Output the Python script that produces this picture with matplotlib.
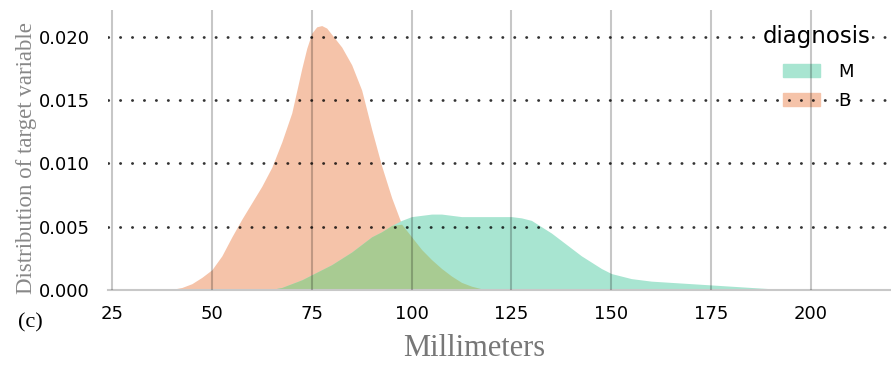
import numpy as np
import matplotlib
matplotlib.use("Agg")
import matplotlib.pyplot as plt

# shared grid (mm) and densities
x_mm = [35, 37.5, 40, 42.5, 45, 47.5, 50, 52.5, 55, 57.5, 60, 62.5, 65, 67.5, 70,
        72.5, 73.75, 75, 76.25, 77.5, 78.75, 80,
        82.5, 85, 87.5, 90, 92.5, 95, 97.5, 100, 102.5, 105, 107.5, 110, 112.5,
        115, 117.5, 120, 122.5, 125, 127.5, 130, 132.5, 135, 137.5, 140, 142.5,
        145, 147.5, 150,
        152.5, 155, 157.5, 160, 165, 170, 175, 180, 185, 190, 195, 200, 205, 210]
dens_B = [0, 0, 0.00005, 0.0002, 0.0005, 0.0010, 0.0016, 0.0027, 0.0042, 0.0056,
          0.0069, 0.0082, 0.0097, 0.0117, 0.0140, 0.0175,
          0.0191, 0.0203, 0.0208, 0.0209, 0.0207, 0.0202,
          0.0192, 0.0178, 0.0158, 0.0127, 0.0098, 0.0073, 0.0052, 0.0042, 0.0032,
          0.0024, 0.0017, 0.0011, 0.0006, 0.0003, 0.0001,
          0, 0, 0, 0, 0, 0, 0, 0, 0, 0, 0, 0, 0,
          0, 0, 0, 0, 0, 0, 0, 0, 0, 0, 0, 0, 0, 0]
dens_M = [0, 0, 0, 0, 0, 0, 0, 0, 0, 0, 0, 0, 0.00005, 0.0002, 0.0005, 0.0008,
          0.0010, 0.0012, 0.0014, 0.0016, 0.0018, 0.0020,
          0.0025, 0.0030, 0.0036, 0.0042, 0.0046, 0.0051, 0.0055, 0.0058, 0.0059,
          0.0060, 0.0060, 0.0059, 0.0058, 0.0058, 0.0058, 0.0058, 0.0058, 0.0058,
          0.0057, 0.0055, 0.0050, 0.0045, 0.0039, 0.0033, 0.0027, 0.0022, 0.0017,
          0.0013,
          0.0011, 0.0009, 0.0008, 0.0007, 0.0006, 0.0005, 0.0004, 0.0003, 0.0002,
          0.0001, 0.00005, 0.00002, 0, 0]
labels = ["M", "B"]
colors = {"M": "#a8e5d1", "B": "#f5c3a9"}
overlap_color = "#a8cb92"
xticks = [25, 50, 75, 100, 125, 150, 175, 200]
yticks = [0.000, 0.005, 0.010, 0.015, 0.020]

x = np.array(x_mm)
b = np.array(dens_B)
m = np.array(dens_M)

fig = plt.figure(figsize=(8.91, 3.65), dpi=100)
ax = fig.add_axes([108 / 891, 1 - 290 / 365, 1 - 108 / 891, 280 / 365])

ax.fill_between(x, 0, b, color=colors["B"], lw=0, zorder=1)
ax.fill_between(x, 0, m, color=colors["M"], lw=0, zorder=1)
ax.fill_between(x, 0, np.minimum(b, m), color=overlap_color, lw=0, zorder=1)

ax.set_xlim(24, 220)
ax.set_ylim(0, 0.02213)
ax.set_xticks(xticks)
ax.set_yticks(yticks)
ax.set_yticklabels([f"{v:.3f}" for v in yticks])
ax.tick_params(length=0, labelsize=13, pad=13)
ax.tick_params(axis="x", pad=11)

# grid on top of the fills (semi transparent, like the reference)
for t in xticks:
    ax.axvline(t, color="black", alpha=0.22, lw=1.5, zorder=6)
for t in yticks[1:]:
    ax.axhline(t, color="black", alpha=0.8, lw=2.0, ls=(0, (0.1, 4.2)),
               dash_capstyle="round", zorder=3)

for s in ["top", "right", "left"]:
    ax.spines[s].set_visible(False)
ax.spines["bottom"].set_color("#c8c8c8")
ax.spines["bottom"].set_linewidth(1.5)
ax.spines["bottom"].set_zorder(3)

# legend under the dotted grid, title on a white patch
handles = [plt.Rectangle((0, 0), 1, 1, color=colors[k]) for k in labels]
leg = ax.legend(handles, labels, frameon=False, fontsize=13, loc="upper left",
                bbox_to_anchor=(774 / 891, 1 - 54 / 365),
                bbox_transform=fig.transFigure, borderpad=0,
                handlelength=2.05, handleheight=0.72, handletextpad=1.0,
                labelspacing=0.62)
leg.set_zorder(2)
ax.text(817 / 891, 1 - 37 / 365, "diagnosis", ha="center", va="center",
        fontsize=16.5, zorder=5, transform=fig.transFigure,
        bbox=dict(facecolor="white", edgecolor="none", pad=1))

serif = "Liberation Serif"
fig.text(27 / 891, 1 - 158 / 365, "Distribution of target variable", rotation=90,
         ha="center", va="center", fontsize=16.5, color="#888888", family=serif)
fig.text(474 / 891, 1 - 349 / 365, "Millimeters", ha="center", va="center",
         fontsize=22, color="#777777", family=serif)
fig.text(18 / 891, 1 - 323 / 365, "(c)", ha="left", va="center",
         fontsize=16, color="black", family=serif)

fig.savefig("out.png", dpi=100)
